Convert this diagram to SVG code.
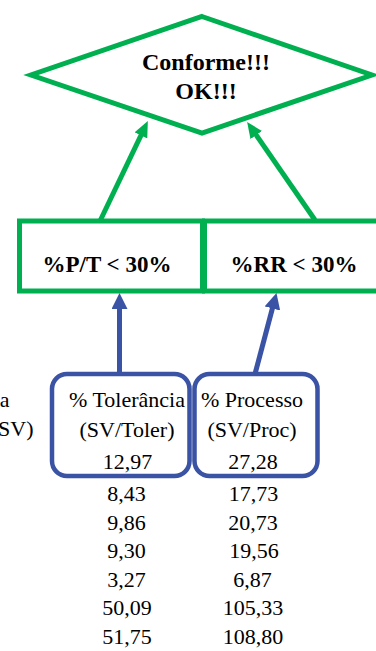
<svg xmlns="http://www.w3.org/2000/svg" width="376" height="651" viewBox="0 0 376 651">
<style>
.g{fill:none;stroke:#00B050;stroke-width:5}
.b{fill:none;stroke:#3A53A4;stroke-width:4.5}
.gl{stroke:#00B050;stroke-width:5;fill:none}
.bl{stroke:#3A53A4;stroke-width:5;fill:none}
text{font-family:'Liberation Serif','DejaVu Serif',serif;fill:#000}
.tb{font-weight:bold;font-size:23px;text-anchor:middle}
.td{font-weight:bold;font-size:24px;text-anchor:middle}
.t{font-size:22px;text-anchor:middle}
.te{font-size:22px;text-anchor:end}
</style>
<defs>
<marker id="ag" viewBox="0 0 16 14" markerUnits="userSpaceOnUse" markerWidth="16" markerHeight="14" refX="2" refY="7" orient="auto"><path d="M0,0 L16,7 L0,14 z" fill="#00B050"/></marker>
<marker id="ab" viewBox="0 0 16 16" markerUnits="userSpaceOnUse" markerWidth="16" markerHeight="16" refX="2" refY="8" orient="auto"><path d="M0,0 L16,8 L0,16 z" fill="#3A53A4"/></marker>
</defs>
<g id="conforme">
<polygon class="g" points="202,16.5 372,75 202,133 31,75"/>
<text class="td" x="206" y="70" font-family="Liberation Serif, serif">Conforme!!!</text>
<text class="td" x="206" y="99" font-family="Liberation Serif, serif">OK!!!</text>
</g>
<g id="pt">
<rect class="g" x="19.5" y="221" width="183" height="70"/>
<text class="tb" x="107" y="272">%P/T &lt; 30%</text>
</g>
<g id="rr">
<rect class="g" x="204.5" y="221" width="180" height="70"/>
<text class="tb" x="294" y="272">%RR &lt; 30%</text>
</g>
<g id="tolerancia">
<rect class="b" x="52" y="374" width="137.5" height="102" rx="15"/>
<text class="t" x="127" y="407">% Tolerância</text>
<text class="t" x="127" y="437">(SV/Toler)</text>
</g>
<g id="processo">
<rect class="b" x="194.5" y="374" width="123" height="102" rx="15"/>
<text class="t" x="252" y="407">% Processo</text>
<text class="t" x="252" y="437">(SV/Proc)</text>
</g>
<g id="connectors">
<line class="gl" x1="100.5" y1="220" x2="141.8" y2="133.6" marker-end="url(#ag)"/>
<line class="gl" x1="315" y1="220" x2="255.1" y2="133.4" marker-end="url(#ag)"/>
<line class="bl" x1="119.5" y1="374" x2="119.5" y2="307" marker-end="url(#ab)"/>
<line class="bl" x1="255" y1="374" x2="272.9" y2="306.5" marker-end="url(#ab)"/>
</g>
<g id="table">
<text class="te" x="9.5" y="407">a</text>
<text class="te" x="33.5" y="436">SV)</text>
<text class="t" x="127.5" y="469">12,97</text>
<text class="t" x="253" y="469">27,28</text>
<text class="t" x="126.5" y="501">8,43</text>
<text class="t" x="253.5" y="501">17,73</text>
<text class="t" x="126.5" y="529.5">9,86</text>
<text class="t" x="253" y="529.5">20,73</text>
<text class="t" x="126.5" y="558">9,30</text>
<text class="t" x="254" y="558">19,56</text>
<text class="t" x="126.5" y="586.5">3,27</text>
<text class="t" x="252.5" y="586.5">6,87</text>
<text class="t" x="127" y="615">50,09</text>
<text class="t" x="253" y="615">105,33</text>
<text class="t" x="127" y="643.5">51,75</text>
<text class="t" x="253" y="643.5">108,80</text>
</g>
</svg>
